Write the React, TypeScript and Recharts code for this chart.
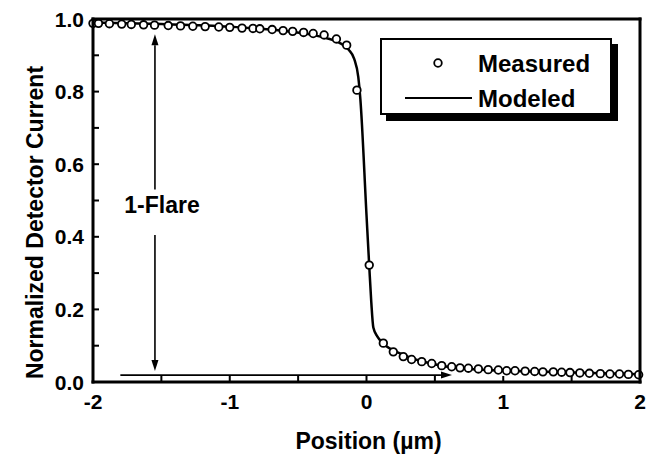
import {
  ComposedChart,
  Scatter,
  Line,
  XAxis,
  YAxis,
  Legend,
  ReferenceLine,
  ReferenceDot,
} from 'recharts';

const FONT = '"Liberation Sans", Arial, Helvetica, sans-serif';

// measured points (position in µm, normalized current)
const measuredX = [
  -2.0, -1.96, -1.88, -1.79, -1.72, -1.63, -1.55, -1.45, -1.36, -1.27, -1.18, -1.08, -1.0,
  -0.91, -0.83, -0.78, -0.69, -0.61, -0.54, -0.46, -0.39, -0.31, -0.22, -0.145, -0.07, 0.02,
  0.123, 0.196, 0.269, 0.33, 0.404, 0.477, 0.55, 0.623, 0.684, 0.745, 0.818, 0.89, 0.964,
  1.025, 1.086, 1.16, 1.23, 1.29, 1.366, 1.427, 1.488, 1.56, 1.63, 1.71, 1.78, 1.85, 1.915, 1.99,
];
const measuredY = [
  0.988, 0.988, 0.987, 0.986, 0.985, 0.984, 0.983, 0.982, 0.981, 0.98, 0.979, 0.978, 0.977,
  0.975, 0.974, 0.973, 0.971, 0.968, 0.966, 0.963, 0.96, 0.956, 0.945, 0.928, 0.804, 0.322,
  0.107, 0.083, 0.07, 0.062, 0.056, 0.051, 0.045, 0.042, 0.039, 0.038, 0.036, 0.034, 0.033,
  0.031, 0.031, 0.03, 0.029, 0.028, 0.028, 0.027, 0.026, 0.025, 0.024, 0.023, 0.022, 0.022, 0.021, 0.02,
];

// modeled curve
const modelX = [
  -2.0, -1.5, -1.0, -0.6, -0.4, -0.3, -0.2, -0.13, -0.09, -0.06, -0.045, 0.0, 0.02, 0.035,
  0.05, 0.08, 0.12, 0.27, 0.55, 0.75, 1.23, 2.0,
];
const modelY = [
  0.99, 0.986, 0.979, 0.967, 0.957, 0.948, 0.935, 0.915, 0.89, 0.84, 0.78, 0.46, 0.32, 0.22,
  0.15, 0.125, 0.107, 0.075, 0.045, 0.036, 0.029, 0.021,
];

const xTicks = [-2, -1.5, -1, -0.5, 0, 0.5, 1, 1.5, 2];
const yTicks = [0, 0.1, 0.2, 0.3, 0.4, 0.5, 0.6, 0.7, 0.8, 0.9, 1.0];

const measured = measuredX.map((x, i) => ({ x, y: measuredY[i] }));
const modeled = modelX.map((x, i) => ({ x, y: modelY[i] }));

// plot box in pixels (follows from the margins below)
const PLOT = { left: 93, top: 19, right: 640, bottom: 382 };

const Circle = (props: any) => (
  <circle cx={props.cx} cy={props.cy} r={3.8} fill="#fff" stroke="#000" strokeWidth={1.8} />
);

// inward tick + label for the x axis
const XTick = (props: any) => {
  const v = props.payload.value;
  const x = props.x;
  return (
    <g>
      <rect x={x - 1} y={PLOT.bottom - 6} width={2} height={6} fill="#000" />
      {Number.isInteger(v) && (
        <text x={x} y={409} textAnchor="middle" fontSize={21} fontWeight="bold" fontFamily={FONT} fill="#000">
          {String(v)}
        </text>
      )}
    </g>
  );
};

// inward tick + label for the y axis, plus the frame drawn once with the first tick
const YTick = (props: any) => {
  const v = props.payload.value;
  const y = props.y;
  const major = Math.round(v * 10) % 2 === 0;
  return (
    <g>
      {v === 0 && (
        <g>
          <rect x={PLOT.left - 1.5} y={PLOT.top - 1.5} width={PLOT.right - PLOT.left + 3} height={3} fill="#000" />
          <rect x={PLOT.left - 1.5} y={PLOT.bottom - 1.5} width={PLOT.right - PLOT.left + 3} height={3} fill="#000" />
          <rect x={PLOT.left - 1.5} y={PLOT.top - 1.5} width={3} height={PLOT.bottom - PLOT.top + 3} fill="#000" />
          <rect x={PLOT.right - 1.5} y={PLOT.top - 1.5} width={3} height={PLOT.bottom - PLOT.top + 3} fill="#000" />
        </g>
      )}
      <rect x={PLOT.left} y={y - 1} width={6} height={2} fill="#000" />
      {major && (
        <text x={84} y={y} dy="0.36em" textAnchor="end" fontSize={21} fontWeight="bold" fontFamily={FONT} fill="#000">
          {v.toFixed(1)}
        </text>
      )}
    </g>
  );
};

// line segment with a filled arrowhead at its end
const Arrow = (props: any) => {
  const { x1, y1, x2, y2 } = props;
  const ang = Math.atan2(y2 - y1, x2 - x1);
  const len = 11;
  const half = 3.5;
  const bx = x2 - len * Math.cos(ang);
  const by = y2 - len * Math.sin(ang);
  const px = -Math.sin(ang) * half;
  const py = Math.cos(ang) * half;
  return (
    <g>
      <line x1={x1} y1={y1} x2={bx} y2={by} stroke="#000" strokeWidth={1.6} />
      <polygon points={`${x2},${y2} ${bx + px},${by + py} ${bx - px},${by - py}`} fill="#000" />
    </g>
  );
};

const FlareText = (props: any) => (
  <text x={props.cx} y={props.cy} dy="0.36em" textAnchor="middle" fontSize={23} fontWeight="bold" fontFamily={FONT} fill="#000">
    1-Flare
  </text>
);

const LegendBox = ({ payload }: any) => (
  <div
    style={{
      width: 232,
      height: 77,
      boxSizing: 'border-box',
      border: '2px solid #000',
      boxShadow: '6px 6px 0 #000',
      background: '#fff',
    }}
  >
    <svg width={228} height={73} style={{ display: 'block' }}>
      {(payload || []).map((entry: any, i: number) => {
        const cy = 23 + i * 35;
        return (
          <g key={entry.value}>
            {entry.value === 'Measured' ? (
              <circle cx={56} cy={cy} r={3.8} fill="#fff" stroke="#000" strokeWidth={1.8} />
            ) : (
              <line x1={23} y1={cy} x2={90} y2={cy} stroke="#000" strokeWidth={2} />
            )}
            <text x={96} y={cy} dy="0.36em" fontSize={24} fontWeight="bold" fontFamily={FONT} fill="#000">
              {entry.value}
            </text>
          </g>
        );
      })}
    </svg>
  </div>
);

const YTitle = (props: any) => {
  const vb = props.viewBox;
  const cx = 43;
  const cy = vb.y + vb.height / 2 + 22;
  return (
    <text x={cx} y={cy} transform={`rotate(-90, ${cx}, ${cy})`} textAnchor="middle" fontSize={23} fontWeight="bold" fontFamily={FONT} fill="#000">
      Normalized Detector Current
    </text>
  );
};

const XTitle = (props: any) => {
  const vb = props.viewBox;
  return (
    <text x={vb.x + vb.width / 2 + 2} y={449} textAnchor="middle" fontSize={23} fontWeight="bold" fontFamily={FONT} fill="#000">
      Position (µm)
    </text>
  );
};

export default function App() {
  return (
    <div style={{ position: 'absolute', left: 0, top: 0, background: '#fff' }}>
      <ComposedChart width={647} height={457} margin={{ top: 19, right: 7, bottom: 45, left: 0 }}>
        <XAxis
          type="number"
          dataKey="x"
          domain={[-2, 2]}
          ticks={xTicks}
          interval={0}
          tick={<XTick />}
          tickLine={false}
          axisLine={false}
          height={30}
          label={<XTitle />}
        />
        <YAxis
          type="number"
          dataKey="y"
          domain={[0, 1]}
          ticks={yTicks}
          interval={0}
          tick={<YTick />}
          tickLine={false}
          axisLine={false}
          width={93}
          label={<YTitle />}
        />
        <ReferenceLine segment={[{ x: -1.547, y: 0.53 }, { x: -1.547, y: 0.958 }]} shape={Arrow} />
        <ReferenceLine segment={[{ x: -1.547, y: 0.405 }, { x: -1.547, y: 0.03 }]} shape={Arrow} />
        <ReferenceLine segment={[{ x: -1.8, y: 0.019 }, { x: 0.625, y: 0.019 }]} shape={Arrow} />
        <ReferenceDot x={-1.495} y={0.488} r={0} shape={FlareText} />
        <Scatter name="Measured" data={measured} dataKey="y" shape={Circle} isAnimationActive={false} />
        <Line name="Modeled" data={modeled} dataKey="y" type="monotone" stroke="#000" strokeWidth={2.5} dot={false} isAnimationActive={false} />
        <Legend
          verticalAlign="middle"
          align="center"
          layout="horizontal"
          content={<LegendBox />}
          wrapperStyle={{ left: 380, top: 38, width: 232, height: 77 }}
        />
      </ComposedChart>
    </div>
  );
}
